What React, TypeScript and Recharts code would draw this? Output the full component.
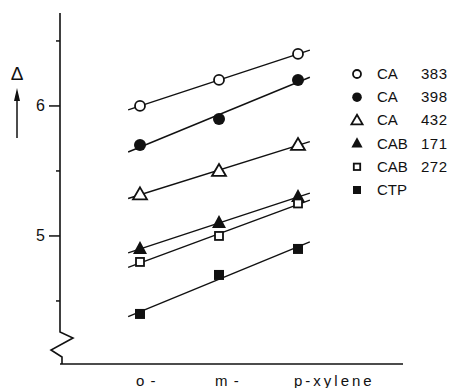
import React from "react";
import { ComposedChart, Line, Scatter, XAxis, YAxis, Customized } from "recharts";

const categories = ["o-", "m-", "p-xylene"];
const xPositions = [0, 1, 2];
const ca383 = [6.0, 6.2, 6.4];
const ca398 = [5.7, 5.9, 6.2];
const ca432 = [5.32, 5.5, 5.7];
const cab171 = [4.9, 5.1, 5.3];
const cab272 = [4.8, 5.0, 5.25];
const ctp = [4.4, 4.7, 4.9];
const seriesNames = ["CA", "CA", "CA", "CAB", "CAB", "CTP"];
const seriesNumbers = ["383", "398", "432", "171", "272", ""];
const yTicks = [4.5, 5, 5.5, 6, 6.5];

const FONT = "'Liberation Sans', Arial, sans-serif";
const INK = "#111";

const kinds = ["circleOpen", "circleFilled", "triOpen", "triFilled", "squareOpen", "squareFilled"];
const values = [ca383, ca398, ca432, cab171, cab272, ctp];

// least squares fit, drawn a bit past the first and last point
function fitLine(ys: number[]) {
  const n = ys.length;
  const mx = xPositions.reduce((a, b) => a + b, 0) / n;
  const my = ys.reduce((a, b) => a + b, 0) / n;
  let num = 0;
  let den = 0;
  xPositions.forEach((x, i) => {
    num += (x - mx) * (ys[i] - my);
    den += (x - mx) * (x - mx);
  });
  const slope = num / den;
  const ext = 0.15;
  const x0 = xPositions[0] - ext;
  const x1 = xPositions[n - 1] + ext;
  return [
    { x: x0, y: my + slope * (x0 - mx) },
    { x: x1, y: my + slope * (x1 - mx) },
  ];
}

const series = values.map((ys, i) => ({
  kind: kinds[i],
  points: ys.map((y, j) => ({ x: xPositions[j], y })),
  fit: fitLine(ys),
}));

const Marker = ({ kind, cx, cy, s = 1 }: any) => {
  switch (kind) {
    case "circleOpen":
      return <circle cx={cx} cy={cy} r={5 * s} fill="#fff" stroke={INK} strokeWidth={1.8} />;
    case "circleFilled":
      return <circle cx={cx} cy={cy} r={6 * s} fill={INK} />;
    case "triOpen":
      return (
        <polygon
          points={`${cx},${cy - 7 * s} ${cx + 7 * s},${cy + 5 * s} ${cx - 7 * s},${cy + 5 * s}`}
          fill="#fff"
          stroke={INK}
          strokeWidth={1.8}
        />
      );
    case "triFilled":
      return (
        <polygon
          points={`${cx},${cy - 8 * s} ${cx + 7 * s},${cy + 5 * s} ${cx - 7 * s},${cy + 5 * s}`}
          fill={INK}
        />
      );
    case "squareOpen":
      return (
        <rect x={cx - 4 * s} y={cy - 4 * s} width={8 * s} height={8 * s} fill="#fff" stroke={INK} strokeWidth={1.8} />
      );
    default:
      return <rect x={cx - 5 * s} y={cy - 5 * s} width={10 * s} height={10 * s} fill={INK} />;
  }
};

const YTick = ({ x, y, payload }: any) => {
  const major = Number.isInteger(payload.value);
  return (
    <g>
      <line x1={x - (major ? 11 : 4)} x2={x} y1={y} y2={y} stroke={INK} strokeWidth={1.5} />
      {major && (
        <text x={x - 15} y={y + 5} textAnchor="end" fontFamily={FONT} fontSize={16} fill={INK}>
          {payload.value}
        </text>
      )}
    </g>
  );
};

const XTick = ({ x, y, payload }: any) => {
  const label = categories[xPositions.indexOf(payload.value)];
  return (
    <text
      x={x - 4}
      y={y + 22}
      textAnchor="start"
      fontFamily={FONT}
      fontSize={15}
      letterSpacing={label.length > 2 ? 3 : 1}
      fill={INK}
    >
      {label.replace("-", " -").replace("p -", "p-")}
    </text>
  );
};

const Decorations = () => (
  <g>
    {/* broken y axis */}
    <polyline
      points="60,13 60,332 73,338 51,350 62,357 62,364"
      fill="none"
      stroke={INK}
      strokeWidth={1.6}
    />
    {/* y axis label: Delta with arrow */}
    <text x={17} y={80} textAnchor="middle" fontFamily={FONT} fontSize={19} fill={INK}>
      Δ
    </text>
    <line x1={17} x2={17} y1={98} y2={138} stroke={INK} strokeWidth={1.5} />
    <polygon points="17,88 20,101 14,101" fill={INK} />
    {/* legend */}
    {series.map((s, i) => {
      const cy = 74 + i * 23.2;
      return (
        <g key={i}>
          <Marker kind={s.kind} cx={357} cy={cy} s={0.8} />
          <text x={377} y={cy + 5} fontFamily={FONT} fontSize={15} fill={INK}>
            {seriesNames[i]}
          </text>
          <text x={421} y={cy + 5} fontFamily={FONT} fontSize={15} letterSpacing={0.5} fill={INK}>
            {seriesNumbers[i]}
          </text>
        </g>
      );
    })}
  </g>
);

export default function App() {
  return (
    <div style={{ position: "absolute", left: 0, top: 0, background: "#fff" }}>
      <ComposedChart width={453} height={388} margin={{ top: 13, right: 50, bottom: 0, left: 0 }}>
        <XAxis
          type="number"
          dataKey="x"
          domain={[-80 / 79, 263 / 79]}
          ticks={xPositions}
          tickSize={0}
          tickMargin={0}
          tick={<XTick />}
          height={24}
          stroke={INK}
          strokeWidth={1.5}
          allowDataOverflow
        />
        <YAxis
          type="number"
          dataKey="y"
          domain={[4.015, 6.715]}
          ticks={yTicks}
          tickSize={0}
          tickMargin={0}
          tick={<YTick />}
          axisLine={false}
          width={60}
          allowDataOverflow
        />
        {series.map((s, i) => (
          <Line
            key={"fit" + i}
            data={s.fit}
            dataKey="y"
            type="linear"
            stroke={INK}
            strokeWidth={1.4}
            dot={false}
            isAnimationActive={false}
          />
        ))}
        {series.map((s, i) => (
          <Scatter
            key={"pts" + i}
            data={s.points}
            dataKey="y"
            isAnimationActive={false}
            shape={(p: any) => <Marker kind={s.kind} cx={p.cx} cy={p.cy} />}
          />
        ))}
        <Customized component={Decorations} />
      </ComposedChart>
    </div>
  );
}
